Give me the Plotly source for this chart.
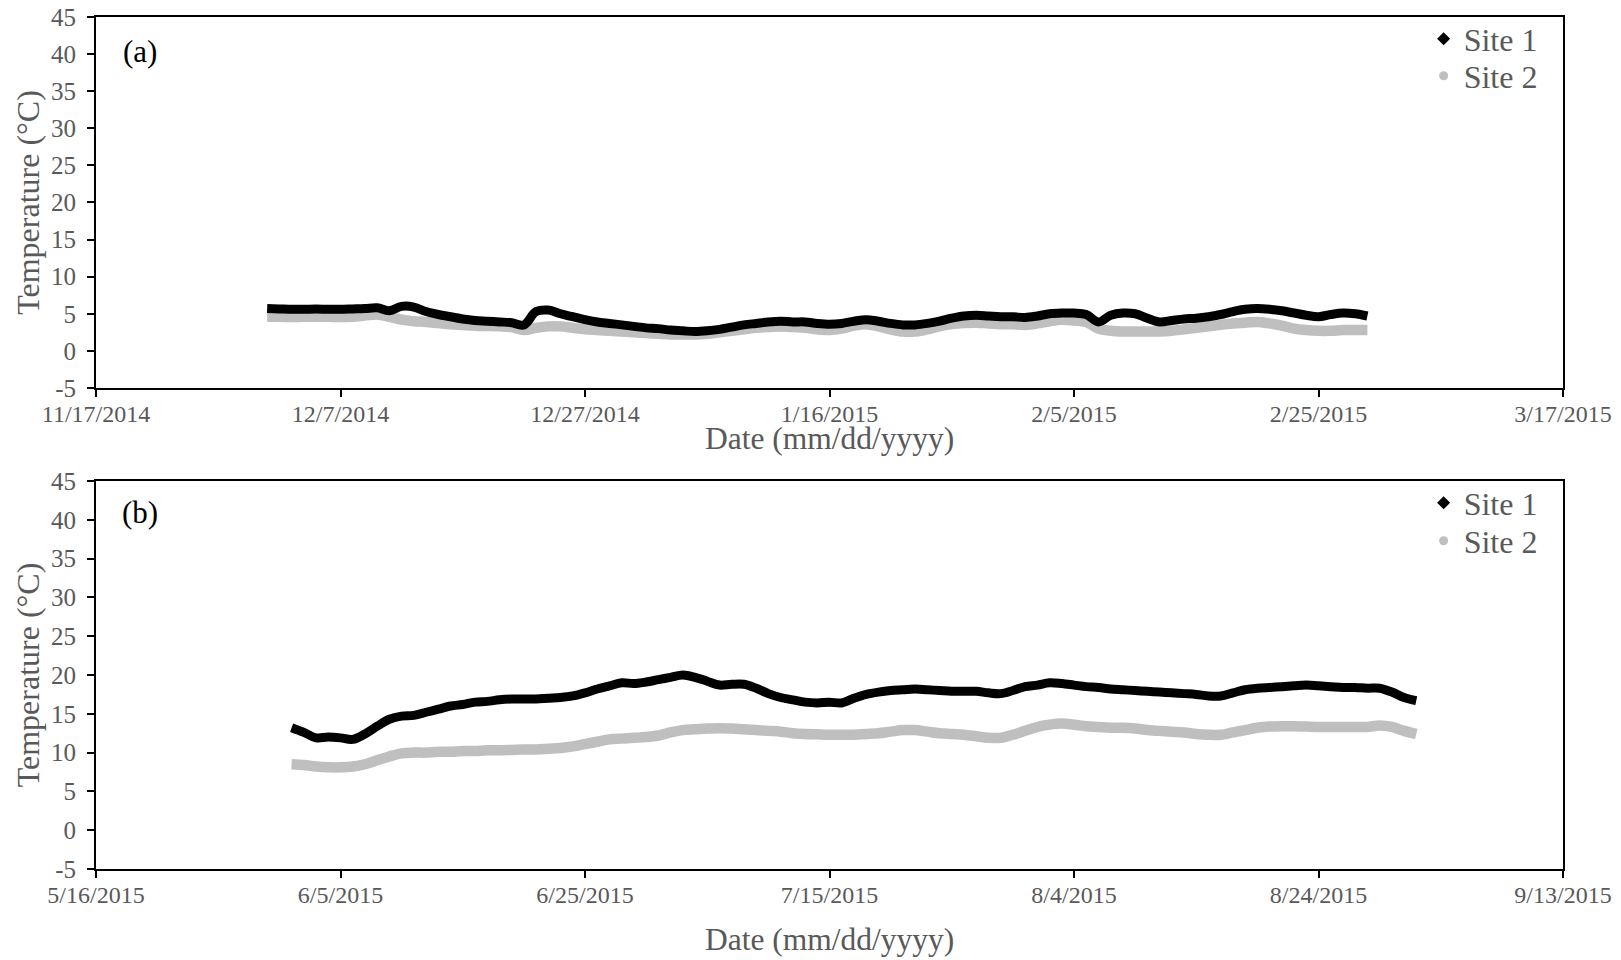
import plotly.graph_objects as go
import pandas as pd

# ---------------- data (daily) ----------------
start_a = "2014-12-01"
site1_a = [5.7, 5.65, 5.6, 5.6, 5.65, 5.6, 5.6, 5.65, 5.7, 5.8,
           5.4, 6.0, 5.9, 5.3, 4.9, 4.6, 4.3, 4.1, 4.0, 3.9,
           3.8, 3.5, 5.3, 5.5, 5.0, 4.6, 4.2, 3.9, 3.7, 3.5,
           3.3, 3.1, 3.0, 2.8, 2.7, 2.6, 2.7, 2.9, 3.2, 3.5,
           3.7, 3.9, 4.0, 3.9, 3.9, 3.7, 3.6, 3.7, 4.0, 4.2,
           4.0, 3.7, 3.5, 3.5, 3.7, 4.0, 4.4, 4.7, 4.8, 4.7,
           4.6, 4.6, 4.5, 4.7, 5.0, 5.1, 5.1, 4.9, 3.9, 4.8,
           5.1, 5.0, 4.4, 3.9, 4.1, 4.3, 4.4, 4.6, 4.9, 5.3,
           5.6, 5.7, 5.6, 5.4, 5.1, 4.8, 4.6, 4.9, 5.1, 5.0,
           4.7]
site2_a = [4.6, 4.6, 4.55, 4.6, 4.6, 4.6, 4.55, 4.6, 4.75, 4.9,
           4.6, 4.2, 4.0, 3.9, 3.75, 3.6, 3.5, 3.4, 3.35, 3.3,
           3.2, 2.8, 3.1, 3.3, 3.3, 3.1, 2.9, 2.8, 2.7, 2.6,
           2.5, 2.4, 2.3, 2.2, 2.2, 2.2, 2.3, 2.5, 2.7, 2.9,
           3.1, 3.2, 3.3, 3.2, 3.1, 2.9, 2.8, 3.0, 3.4, 3.6,
           3.3, 2.9, 2.6, 2.6, 2.9, 3.3, 3.6, 3.75, 3.8, 3.7,
           3.6, 3.6, 3.5, 3.7, 4.0, 4.2, 4.1, 3.9, 3.0, 2.7,
           2.6, 2.6, 2.6, 2.6, 2.7, 2.9, 3.1, 3.3, 3.5, 3.7,
           3.8, 3.9, 3.7, 3.4, 3.0, 2.8, 2.7, 2.7, 2.8, 2.8,
           2.8]

start_b = "2015-06-01"
site1_b = [13.2, 12.6, 11.9, 12.0, 11.9, 11.7, 12.4, 13.4, 14.3, 14.7,
           14.8, 15.2, 15.6, 16.0, 16.2, 16.5, 16.6, 16.8, 16.9, 16.9,
           16.9, 17.0, 17.1, 17.3, 17.7, 18.2, 18.6, 19.0, 18.9, 19.1,
           19.4, 19.7, 20.0, 19.7, 19.2, 18.7, 18.8, 18.8, 18.3, 17.6,
           17.1, 16.8, 16.5, 16.4, 16.5, 16.4, 17.0, 17.5, 17.8, 18.0,
           18.1, 18.2, 18.1, 18.0, 17.9, 17.9, 17.9, 17.7, 17.6, 18.0,
           18.5, 18.7, 19.0, 18.9, 18.7, 18.5, 18.4, 18.2, 18.1, 18.0,
           17.9, 17.8, 17.7, 17.6, 17.5, 17.3, 17.3, 17.7, 18.1, 18.3,
           18.4, 18.5, 18.6, 18.7, 18.6, 18.5, 18.4, 18.4, 18.3, 18.3,
           17.8, 17.1, 16.7]
site2_b = [8.5, 8.4, 8.2, 8.1, 8.1, 8.2, 8.5, 9.0, 9.5, 9.9,
           10.0, 10.0, 10.1, 10.1, 10.2, 10.2, 10.3, 10.3, 10.35, 10.4,
           10.4, 10.5, 10.6, 10.8, 11.1, 11.4, 11.7, 11.8, 11.9, 12.0,
           12.2, 12.6, 12.9, 13.0, 13.1, 13.15, 13.1, 13.0, 12.9, 12.8,
           12.7, 12.5, 12.4, 12.35, 12.3, 12.3, 12.3, 12.4, 12.5, 12.7,
           12.9, 12.9, 12.7, 12.5, 12.4, 12.3, 12.1, 11.9, 11.9, 12.3,
           12.8, 13.3, 13.6, 13.75, 13.6, 13.4, 13.3, 13.2, 13.2, 13.1,
           12.9, 12.8, 12.7, 12.6, 12.4, 12.3, 12.3, 12.6, 12.9, 13.2,
           13.35, 13.4, 13.4, 13.35, 13.3, 13.3, 13.3, 13.3, 13.3, 13.5,
           13.3, 12.8, 12.4]

tickvals_a = ["2014-11-17", "2014-12-07", "2014-12-27", "2015-01-16",
              "2015-02-05", "2015-02-25", "2015-03-17"]
ticktext_a = ["11/17/2014", "12/7/2014", "12/27/2014", "1/16/2015",
              "2/5/2015", "2/25/2015", "3/17/2015"]
tickvals_b = ["2015-05-16", "2015-06-05", "2015-06-25", "2015-07-15",
              "2015-08-04", "2015-08-24", "2015-09-13"]
ticktext_b = ["5/16/2015", "6/5/2015", "6/25/2015", "7/15/2015",
              "8/4/2015", "8/24/2015", "9/13/2015"]
ytickvals = [-5, 0, 5, 10, 15, 20, 25, 30, 35, 40, 45]
yticktext = ["-5", "0", "5", "10", "15", "20", "25", "30", "35", "40", "45"]
series_names = ["Site 1", "Site 2"]
panel_labels = ["(a)", "(b)"]
x_title = "Date (mm/dd/yyyy)"
y_title = "Temperature (°C)"

dates_a = pd.date_range(start_a, periods=len(site1_a), freq="D")
dates_b = pd.date_range(start_b, periods=len(site1_b), freq="D")

FONT = "Liberation Serif"
GREY_TXT = "#595959"
C1 = "black"
C2 = "#BFBFBF"

fig = go.Figure()

panels = [
    ("x", "y", ("legend", "legend2"), dates_a, site1_a, site2_a),
    ("x2", "y2", ("legend3", "legend4"), dates_b, site1_b, site2_b),
]
for xa, ya, lgs, d, s1, s2 in panels:
    # legend entries (marker style as in the reference legend)
    fig.add_trace(go.Scatter(x=[None], y=[None], mode="markers", name=series_names[0],
                             marker=dict(symbol="diamond", size=10, color=C1),
                             xaxis=xa, yaxis=ya, legend=lgs[0]))
    fig.add_trace(go.Scatter(x=[None], y=[None], mode="markers", name=series_names[1],
                             marker=dict(symbol="circle", size=9, color=C2),
                             xaxis=xa, yaxis=ya, legend=lgs[1]))
    # data
    fig.add_trace(go.Scatter(x=d, y=s2, mode="lines", showlegend=False,
                             line=dict(color=C2, width=10.5, shape="spline"),
                             xaxis=xa, yaxis=ya))
    fig.add_trace(go.Scatter(x=d, y=s1, mode="lines", showlegend=False,
                             line=dict(color=C1, width=9, shape="spline"),
                             xaxis=xa, yaxis=ya))

xcommon = dict(type="date", showgrid=False, zeroline=False, showline=True,
               linecolor="black", linewidth=2, mirror=True, ticks="outside",
               ticklen=7, tickwidth=2, tickcolor="black", automargin=False,
               tickfont=dict(family=FONT, size=24, color=GREY_TXT),
               ticklabelstandoff=-4, ticklabeloverflow="allow")
ycommon = dict(range=[-5, 45], tickvals=ytickvals, ticktext=yticktext,
               showgrid=False, zeroline=False, automargin=False,
               showline=True, linecolor="black", linewidth=2, mirror=True,
               ticks="outside", ticklen=7, tickwidth=2, tickcolor="black",
               tickfont=dict(family=FONT, size=25, color=GREY_TXT),
               ticklabelstandoff=6, ticklabeloverflow="allow",
               title=dict(text=y_title, font=dict(family=FONT, size=32, color=GREY_TXT),
                          standoff=2))

legcommon = dict(xanchor="left", yanchor="middle", x=0.905,
                 bgcolor="rgba(0,0,0,0)", borderwidth=0,
                 font=dict(family=FONT, size=32, color=GREY_TXT))

# The page body has an 8px margin, so the figure is drawn 8px in from the
# window's top-left corner; size and margins compensate for that.
H = 852.0   # plot-area height in px


def py(pix):
    # window pixel row -> paper y
    return (869.0 - pix) / H


def px(pix):
    # window pixel column -> paper x
    return (pix - 96.0) / 1467.0


fig.update_layout(
    width=1613, height=952,
    margin=dict(l=88, r=58, t=9, b=91, autoexpand=False),
    paper_bgcolor="white", plot_bgcolor="white",
    font=dict(family=FONT, color=GREY_TXT),
    xaxis=dict(xcommon, anchor="y", domain=[0, 1],
               range=[tickvals_a[0], tickvals_a[-1]],
               tickvals=tickvals_a, ticktext=ticktext_a),
    yaxis=dict(ycommon, anchor="x", domain=[0.5646, 1]),
    xaxis2=dict(xcommon, anchor="y2", domain=[0, 1],
                range=[tickvals_b[0], tickvals_b[-1]],
                tickvals=tickvals_b, ticktext=ticktext_b),
    yaxis2=dict(ycommon, anchor="x2", domain=[0, 0.4554]),
    legend=dict(legcommon, y=py(39)),
    legend2=dict(legcommon, y=py(76)),
    legend3=dict(legcommon, y=py(503)),
    legend4=dict(legcommon, y=py(541)),
    annotations=[
        dict(text=panel_labels[0], xref="paper", yref="paper", x=px(140), y=py(52),
             xanchor="center", yanchor="middle", showarrow=False,
             font=dict(family=FONT, size=31, color="black")),
        dict(text=panel_labels[1], xref="paper", yref="paper", x=px(140), y=py(513),
             xanchor="center", yanchor="middle", showarrow=False,
             font=dict(family=FONT, size=31, color="black")),
        dict(text=x_title, xref="paper", yref="paper", x=0.5, y=py(438),
             xanchor="center", yanchor="middle", showarrow=False,
             font=dict(family=FONT, size=31.5, color=GREY_TXT)),
        dict(text=x_title, xref="paper", yref="paper", x=0.5, y=py(939),
             xanchor="center", yanchor="middle", showarrow=False,
             font=dict(family=FONT, size=31.5, color=GREY_TXT)),
    ],
)

fig.write_html("out.html")
